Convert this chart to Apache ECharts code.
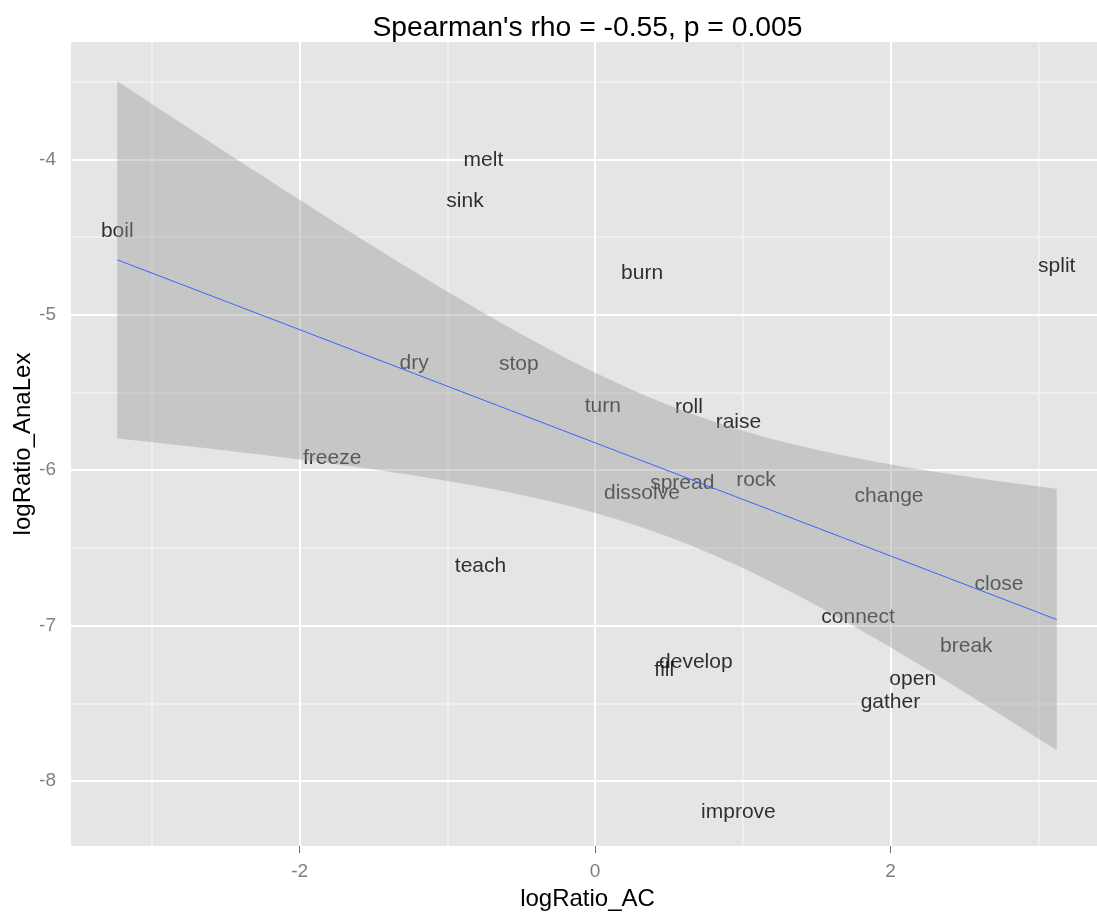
<!DOCTYPE html>
<html><head><meta charset="utf-8">
<script src="https://cdn.jsdelivr.net/npm/echarts@6/dist/echarts.min.js"></script>
<style>html,body{margin:0;padding:0;background:#fff}#chart{width:1097px;height:915px}</style>
</head><body><div id="chart"></div>
<script>
// ---- data ----
const words = ['boil','melt','sink','burn','split','freeze','dry','stop','turn','roll','raise','spread','dissolve','rock','teach','change','close','connect','break','open','gather','develop','fill','improve'];
const logRatioAC = [-3.235,-0.756,-0.881,0.318,3.125,-1.780,-1.225,-0.516,0.052,0.635,0.970,0.590,0.317,1.089,-0.776,1.990,2.734,1.780,2.513,2.150,1.999,0.682,0.468,0.970];
const logRatioAnaLex = [-4.446,-3.985,-4.253,-4.714,-4.671,-5.905,-5.293,-5.298,-5.568,-5.577,-5.669,-6.062,-6.130,-6.044,-6.596,-6.147,-6.714,-6.928,-7.111,-7.325,-7.475,-7.218,-7.267,-8.183];
const xMajorTicks = [-2, 0, 2];
const xMinorTicks = [-3, -1, 1, 3];
const yMajorTicks = [-8, -7, -6, -5, -4];
const yMinorTicks = [-7.5, -6.5, -5.5, -4.5, -3.5];
const titleText = "Spearman's rho = -0.55, p = 0.005";
const xName = 'logRatio_AC';
const yName = 'logRatio_AnaLex';

// ---- linear model fit with 95% confidence band (as geom_smooth(method = "lm")) ----
const n = logRatioAC.length;
const xbar = logRatioAC.reduce((s, v) => s + v, 0) / n;
const ybar = logRatioAnaLex.reduce((s, v) => s + v, 0) / n;
let Sxx = 0, Sxy = 0;
for (let i = 0; i < n; i++) {
  Sxx += (logRatioAC[i] - xbar) ** 2;
  Sxy += (logRatioAC[i] - xbar) * (logRatioAnaLex[i] - ybar);
}
const slope = Sxy / Sxx;
const intercept = ybar - slope * xbar;
let rss = 0;
for (let i = 0; i < n; i++) rss += (logRatioAnaLex[i] - (intercept + slope * logRatioAC[i])) ** 2;
const sigma = Math.sqrt(rss / (n - 2));
const tCrit = 2.0739; // qt(0.975, df = 22)
const xLo = Math.min(...logRatioAC), xHi = Math.max(...logRatioAC);
const fitLine = [], bandUpper = [], bandLower = [];
const nEval = 80;
for (let k = 0; k < nEval; k++) {
  const x = xLo + (xHi - xLo) * k / (nEval - 1);
  const yhat = intercept + slope * x;
  const se = sigma * Math.sqrt(1 / n + (x - xbar) ** 2 / Sxx);
  fitLine.push([x, yhat]);
  bandUpper.push([x, yhat + tCrit * se]);
  bandLower.push([x, yhat - tCrit * se]);
}

const FONT = '"Liberation Sans", Arial, sans-serif';
const labelData = words.map((w, i) => [logRatioAC[i], logRatioAnaLex[i], w]);

const chart = echarts.init(document.getElementById('chart'), null, {renderer: 'canvas'});
chart.setOption({
  backgroundColor: '#ffffff',
  animation: false,
  title: {
    text: titleText,
    left: 582.5,
    top: 9,
    textAlign: 'center',
    textStyle: {fontFamily: FONT, fontSize: 28.3, fontWeight: 'normal', color: '#000000'}
  },
  grid: {
    left: 71, right: -7, top: 42, bottom: 69,
    outerBoundsMode: 'none', containLabel: false,
    show: true, backgroundColor: '#E5E5E5', borderWidth: 0
  },
  xAxis: {
    type: 'value', min: -3.548, max: 3.445,
    name: xName, nameLocation: 'middle', nameGap: 41, nameMoveOverlap: false,
    nameTextStyle: {fontFamily: FONT, fontSize: 24, color: '#000000'},
    axisLine: {show: false},
    axisTick: {show: true, length: 7, customValues: xMajorTicks, lineStyle: {color: '#6e6e6e', width: 1}},
    axisLabel: {show: true, customValues: xMajorTicks, margin: 16, fontFamily: FONT, fontSize: 19, color: '#7F7F7F'},
    splitLine: {show: false}
  },
  yAxis: {
    type: 'value', min: -8.418, max: -3.245,
    name: yName, nameLocation: 'middle', nameGap: 36, nameMoveOverlap: false,
    nameTextStyle: {fontFamily: FONT, fontSize: 24, color: '#000000'},
    axisLine: {show: false},
    axisTick: {show: true, length: 7, customValues: yMajorTicks, lineStyle: {color: '#6e6e6e', width: 1}},
    axisLabel: {show: true, customValues: yMajorTicks, margin: 15, fontFamily: FONT, fontSize: 19, color: '#7F7F7F'},
    splitLine: {show: false}
  },
  series: [
    {
      type: 'scatter', z: 1, silent: true, data: [],
      markLine: {
        z: 1, silent: true, symbol: ['none', 'none'], animation: false,
        label: {show: false},
        emphasis: {disabled: true},
        data: [].concat(
          xMinorTicks.map(v => ({xAxis: v, lineStyle: {color: '#F2F2F2', width: 1.5, type: 'solid'}})),
          yMinorTicks.map(v => ({yAxis: v, lineStyle: {color: '#F2F2F2', width: 1.5, type: 'solid'}})),
          xMajorTicks.map(v => ({xAxis: v, lineStyle: {color: '#FFFFFF', width: 2, type: 'solid'}})),
          yMajorTicks.map(v => ({yAxis: v, lineStyle: {color: '#FFFFFF', width: 2, type: 'solid'}}))
        )
      }
    },
    {
      type: 'scatter', z: 2, silent: true,
      symbolSize: 1, itemStyle: {color: 'rgba(0,0,0,0)'},
      data: labelData,
      label: {
        show: true, position: 'inside', offset: [0, 3],
        formatter: p => p.value[2],
        fontFamily: FONT, fontSize: 21, color: '#000000'
      }
    },
    {
      type: 'custom', z: 3, silent: true,
      data: [[0, 0]],
      renderItem: (params, api) => {
        const pts = bandUpper.map(p => api.coord(p))
          .concat(bandLower.slice().reverse().map(p => api.coord(p)));
        return {type: 'polygon', shape: {points: pts}, style: {fill: 'rgba(153,153,153,0.4)'}};
      }
    },
    {
      type: 'line', z: 4, silent: true,
      data: fitLine, showSymbol: false, symbol: 'none',
      lineStyle: {color: '#3366FF', width: 1}
    }
  ]
});
</script>
</body></html>
